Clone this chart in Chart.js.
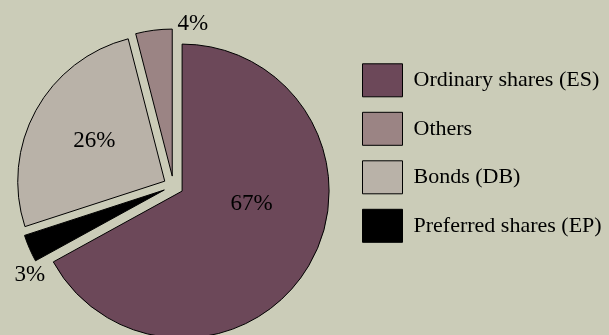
<!DOCTYPE html>
<html>
<head>
<meta charset="utf-8">
<script src="https://cdn.jsdelivr.net/npm/chart.js@4/dist/chart.umd.min.js"></script>
<style>
  html, body { margin: 0; padding: 0; background: #cbccb8; }
  #wrap { width: 609px; height: 335px; }
</style>
</head>
<body>
<div id="wrap"><canvas id="pie" width="609" height="335"></canvas></div>
<script>
// data, in drawing order (clockwise from 12 o'clock)
var categories = ['Ordinary shares (ES)', 'Preferred shares (EP)', 'Bonds (DB)', 'Others'];
var shares = [67, 3, 26, 4];
var pctLabels = ['67%', '3%', '26%', '4%'];
// legend reads top to bottom in this order (indices into categories)
var legendOrder = [0, 3, 2, 1];

var colors = ['#6c4859', '#000000', '#b9b2a8', '#9b8484'];
// label placement per slice: [degrees from slice middle, fraction of radius]
var labelPlace = [[-18, 0.545], [-8.4, 1.15], [1, 0.62], [14, 1.113]];
var explode = 10; // px every slice is pulled out

// v4's own "offset" also grows the radius and trims the angles,
// so pull each arc's centre out along its middle instead
var explodePlugin = {
    id: 'explode',
    afterDatasetUpdate: function (chart, args) {
        args.meta.data.forEach(function (arc) {
            var mid = (arc.startAngle + arc.endAngle) / 2;
            arc.x += Math.cos(mid) * explode;
            arc.y += Math.sin(mid) * explode;
        });
    }
};

var pctLabelPlugin = {
    id: 'pctLabels',
    afterDatasetsDraw: function (chart) {
        var ctx = chart.ctx;
        var area = chart.chartArea;
        var cx = (area.left + area.right) / 2;
        var cy = (area.top + area.bottom) / 2;
        var meta = chart.getDatasetMeta(0);
        ctx.save();
        ctx.font = '23px "Liberation Serif", serif';
        ctx.fillStyle = '#000';
        ctx.textAlign = 'center';
        ctx.textBaseline = 'middle';
        meta.data.forEach(function (arc, i) {
            var mid = (arc.startAngle + arc.endAngle) / 2 + labelPlace[i][0] * Math.PI / 180;
            var r = arc.outerRadius * labelPlace[i][1];
            ctx.fillText(pctLabels[i], cx + Math.cos(mid) * r, cy + Math.sin(mid) * r);
        });
        ctx.restore();
    }
};

new Chart(document.getElementById('pie'), {
    type: 'pie',
    data: {
        labels: categories,
        datasets: [{
            data: shares,
            backgroundColor: colors,
            borderColor: '#000',
            borderWidth: 1,
            clip: false
        }]
    },
    options: {
        responsive: false,
        animation: false,
        events: [],
        radius: 147,
        layout: { padding: { left: 0, right: 0, top: 48.3, bottom: 11.3 } },
        plugins: {
            tooltip: { enabled: false },
            legend: {
                position: 'right',
                align: 'start',
                maxWidth: 262,
                labels: {
                    boxWidth: 40,
                    boxHeight: 33,
                    padding: 15.5,
                    color: '#000',
                    font: { family: '"Liberation Serif", serif', size: 22 },
                    sort: function (a, b) {
                        return legendOrder.indexOf(a.index) - legendOrder.indexOf(b.index);
                    }
                }
            }
        }
    },
    plugins: [explodePlugin, pctLabelPlugin]
});
</script>
</body>
</html>
